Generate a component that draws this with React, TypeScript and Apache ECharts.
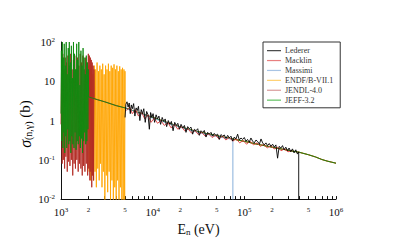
import React, { useEffect, useRef } from 'react';
import * as echarts from 'echarts';

type P = [number, number];

const seriesNames = ['Lederer', 'Macklin', 'Massimi', 'ENDF/B-VII.1', 'JENDL-4.0', 'JEFF-3.2'];
const seriesColors = ['#000000', '#e03a3a', '#7aa6d6', '#ffa500', '#b22a22', '#108a10'];
const legendColors = ['#444444', '#e88080', '#a8c4e4', '#ffd070', '#d89a9a', '#60c060'];

const xTickValues = [1000, 2000, 3000, 4000, 5000, 6000, 7000, 8000, 9000,
  10000, 20000, 30000, 40000, 50000, 60000, 70000, 80000, 90000,
  100000, 200000, 300000, 400000, 500000, 600000, 700000, 800000, 900000, 1000000];
const xLabelValues = [1000, 2000, 5000, 10000, 20000, 50000, 100000, 200000, 500000, 1000000];
const yLabelValues = [0.01, 0.1, 1, 10, 100];

// evaluated smooth cross section above resolved resonance region
const evalSmooth: P[] = [[2000, 4.0], [2500, 3.4], [3000, 3.0], [4000, 2.4], [5000, 2.1], [7000, 1.6],
  [10000, 1.2], [15000, 0.86], [20000, 0.69], [30000, 0.53], [50000, 0.41], [70000, 0.35],
  [100000, 0.295], [150000, 0.24], [200000, 0.21], [300000, 0.175], [400000, 0.155],
  [500000, 0.135], [600000, 0.118], [700000, 0.102], [800000, 0.093], [900000, 0.087], [1000000, 0.082]];

const jeffRes: P[] = [[1000, 1.5], [1010, 60], [1022, 0.3], [1035, 100], [1048, 0.2], [1060, 40], [1072, 0.5],
  [1085, 90], [1098, 0.15], [1112, 25], [1125, 0.4], [1140, 100], [1155, 0.2], [1170, 15], [1185, 0.6],
  [1200, 70], [1215, 0.25], [1232, 100], [1248, 0.3], [1265, 30], [1280, 0.15], [1298, 80], [1315, 0.4],
  [1332, 12], [1350, 0.25], [1368, 100], [1386, 0.2], [1405, 50], [1424, 0.5], [1443, 20], [1462, 0.18],
  [1482, 90], [1502, 0.3], [1522, 35], [1543, 0.25], [1564, 100], [1585, 0.4], [1606, 8], [1628, 0.2],
  [1650, 60], [1672, 0.35], [1695, 25], [1718, 0.15], [1741, 70], [1765, 0.3], [1789, 40], [1813, 0.5],
  [1838, 15], [1863, 0.25], [1888, 45], [1913, 0.3], [1939, 30], [1965, 0.6], [1990, 20], [2000, 4.0]];

const jendlRes: P[] = [[1000, 0.8], [1015, 30], [1030, 0.08], [1045, 50], [1060, 0.1], [1078, 20], [1095, 0.06],
  [1112, 40], [1130, 0.12], [1150, 30], [1170, 0.05], [1190, 45], [1210, 0.09], [1230, 25], [1252, 0.07],
  [1275, 50], [1298, 0.1], [1320, 20], [1343, 0.04], [1366, 35], [1390, 0.08], [1414, 45], [1438, 0.06],
  [1463, 20], [1488, 0.1], [1514, 40], [1540, 0.05], [1566, 25], [1593, 0.08], [1620, 50], [1648, 0.06],
  [1676, 30], [1705, 0.04], [1734, 45], [1764, 0.07], [1794, 20], [1825, 0.05], [1856, 40], [1888, 0.08],
  [1920, 30], [1953, 0.04], [1986, 50], [2010, 0.06], [2040, 45], [2065, 0.03], [2090, 40], [2115, 0.05],
  [2140, 35], [2165, 0.02], [2190, 30], [2215, 0.04], [2240, 25], [2265, 0.03], [2290, 20], [2300, 3.6]];

const endfRes: P[] = [[1950, 0.5], [2000, 25], [2030, 0.05], [2070, 20], [2110, 0.03], [2150, 25], [2190, 0.04],
  [2230, 15], [2270, 0.03], [2310, 25], [2350, 0.05], [2390, 20], [2430, 0.02], [2475, 30], [2520, 0.06],
  [2565, 18], [2610, 0.03], [2655, 25], [2700, 0.08], [2750, 20], [2800, 0.02], [2850, 28], [2900, 0.05],
  [2955, 15], [3010, 0.008], [3065, 25], [3120, 0.04], [3175, 20], [3230, 0.015], [3290, 28], [3350, 0.05],
  [3410, 18], [3470, 0.008], [3530, 25], [3595, 0.03], [3660, 22], [3725, 0.008], [3790, 27], [3860, 0.02],
  [3930, 20], [4000, 0.008], [4070, 25], [4145, 0.03], [4220, 18], [4295, 0.008], [4370, 24], [4450, 0.02],
  [4530, 20], [4610, 0.008], [4690, 22], [4775, 0.008], [4860, 20], [4950, 0.008], [4990, 18], [5000, 2.1]];

const ledererPts: P[] = [[5000, 1.2], [5100, 2.6], [5250, 3.0], [5400, 2.2], [5550, 2.8], [5700, 1.5], [5850, 2.5],
  [6000, 2.0], [6200, 2.7], [6400, 1.3], [6600, 2.1], [6800, 1.8], [7000, 2.3], [7250, 1.0], [7500, 1.9],
  [7750, 1.5], [8000, 2.0], [8300, 0.9], [8600, 1.7], [8900, 1.4], [9200, 0.6], [9500, 1.6], [9800, 1.2],
  [10100, 1.5], [10500, 0.9], [10900, 1.4], [11300, 1.1], [11700, 1.3], [12200, 0.8], [12700, 1.2],
  [13200, 0.95], [13700, 1.1], [14200, 0.7], [14800, 1.0], [15400, 0.8], [16000, 0.95], [16700, 0.55],
  [17400, 0.9], [18100, 0.75], [18800, 0.85], [19600, 0.6], [20400, 0.8], [21300, 0.65], [22200, 0.75],
  [23100, 0.5], [24100, 0.7], [25100, 0.62], [26200, 0.68], [27300, 0.45], [28500, 0.6], [29700, 0.55],
  [31000, 0.62], [32300, 0.42], [33700, 0.55], [35100, 0.5], [36600, 0.56], [38200, 0.38], [39800, 0.5],
  [41500, 0.45], [43300, 0.5], [45100, 0.4], [47000, 0.47], [49000, 0.42], [51100, 0.45], [53300, 0.33],
  [55600, 0.44], [58000, 0.4], [60500, 0.43], [63100, 0.35], [65800, 0.42], [68600, 0.36], [71500, 0.4],
  [74500, 0.3], [77700, 0.38], [81000, 0.34], [84500, 0.45], [88100, 0.32], [91900, 0.36], [95800, 0.33],
  [99900, 0.37], [104000, 0.3], [108500, 0.33], [113000, 0.28], [118000, 0.36], [123000, 0.3],
  [128500, 0.27], [134000, 0.32], [140000, 0.29], [146000, 0.25], [152000, 0.34], [158500, 0.27],
  [165000, 0.24], [172000, 0.27], [179500, 0.23], [187000, 0.26], [195000, 0.22], [203500, 0.25],
  [212000, 0.21], [221000, 0.24], [230500, 0.11], [240000, 0.22], [250500, 0.2], [261000, 0.23],
  [272000, 0.18], [283500, 0.21], [295500, 0.17], [308000, 0.2], [321000, 0.16], [335000, 0.19],
  [349000, 0.15], [364000, 0.18], [380000, 0.14], [392000, 0.16], [392000, 0.001]];

const macklinPts: P[] = [[5200, 1.8], [5600, 2.2], [6000, 1.5], [6500, 1.9], [7000, 1.3], [7600, 1.6], [8200, 1.1],
  [8900, 1.4], [9600, 0.9], [10400, 1.15], [11300, 0.85], [12300, 1.0], [13400, 0.75], [14600, 0.9],
  [15900, 0.65], [17300, 0.8], [18800, 0.6], [20500, 0.7], [22300, 0.55], [24300, 0.62], [26500, 0.48],
  [28900, 0.56], [31500, 0.44], [34300, 0.5], [37400, 0.4], [40800, 0.46], [44500, 0.37], [48500, 0.42],
  [52900, 0.34], [57700, 0.4], [62900, 0.32], [68600, 0.37], [74800, 0.3], [81600, 0.34], [89000, 0.27],
  [97000, 0.31], [105800, 0.25], [115400, 0.3], [125800, 0.24], [137200, 0.27], [149600, 0.22],
  [163100, 0.25], [177900, 0.2], [194000, 0.23], [211500, 0.19], [230700, 0.21], [251600, 0.17],
  [274400, 0.19], [299200, 0.16], [326300, 0.17]];

const massimiPts: P[] = [[5000, 2.0], [6000, 1.8], [7000, 1.55], [8500, 1.35], [10000, 1.15], [12000, 1.0],
  [15000, 0.84], [18000, 0.73], [22000, 0.63], [27000, 0.55], [33000, 0.48], [40000, 0.44], [48000, 0.4],
  [57000, 0.37], [66000, 0.35], [75000, 0.33], [75000, 0.001]];

const withTail = (res: P[]): P[] => res.concat(evalSmooth.filter((p) => p[0] > res[res.length - 1][0]));

const SERIF = 'Liberation Serif, DejaVu Serif, serif';

function fmtPow(v: number, big: boolean): string {
  const e = Math.round(Math.log10(v));
  if (Math.abs(Math.log10(v) - e) > 1e-6) {
    return '{m|' + Math.round(v / Math.pow(10, Math.floor(Math.log10(v) + 1e-9))) + '}';
  }
  if (!big && (e === 0 || e === 1)) return '{b|' + Math.pow(10, e) + '}';
  return '{b|10}{sup|' + e + '}';
}

export default function App() {
  const ref = useRef<HTMLDivElement>(null);
  useEffect(() => {
    if (!ref.current) return;
    const chart = echarts.init(ref.current, null, { renderer: 'svg' });
    const mk = (name: string, data: P[], z: number, width = 0.9) => ({
      name,
      type: 'line',
      data,
      symbol: 'none',
      showSymbol: false,
      z,
      clip: true,
      lineStyle: { width, color: seriesColors[seriesNames.indexOf(name)] },
      itemStyle: { color: seriesColors[seriesNames.indexOf(name)] },
    });
    const richLabel = {
      b: { fontFamily: SERIF, fontSize: 11, color: '#111' },
      sup: { fontFamily: SERIF, fontSize: 7, color: '#111', verticalAlign: 'top' },
      m: { fontFamily: SERIF, fontSize: 7, color: '#111' },
    };
    chart.setOption({
      animation: false,
      backgroundColor: '#fff',
      grid: { left: 61, right: 61, top: 42, bottom: 41, containLabel: false },
      legend: {
        data: seriesNames.map((n, i) => ({ name: n, itemStyle: { color: legendColors[i] } })),
        orient: 'vertical',
        left: 263,
        top: 42,
        icon: 'rect',
        itemWidth: 14,
        itemHeight: 1.2,
        itemGap: 0.6,
        padding: [4, 7, 3, 4],
        borderColor: '#333',
        borderWidth: 1,
        backgroundColor: '#fff',
        textStyle: { fontFamily: SERIF, fontSize: 8, lineHeight: 9.3, color: '#333', padding: [0, 0, 0, -1] },
      },
      xAxis: {
        type: 'log',
        logBase: 10,
        min: 1000,
        max: 1000000,
        name: '{t|E}{sub|n}{t| (eV)}',
        nameLocation: 'middle',
        nameGap: 22,
        nameTextStyle: {
          rich: {
            t: { fontFamily: SERIF, fontSize: 14, color: '#111' },
            sub: { fontFamily: SERIF, fontSize: 9, color: '#111', verticalAlign: 'bottom' },
          },
        },
        splitLine: { show: false },
        axisLine: { lineStyle: { color: '#111', width: 1 } },
        axisTick: { inside: true, length: 3, customValues: xTickValues, lineStyle: { color: '#111' } },
        minorTick: { show: false },
        axisLabel: {
          customValues: xLabelValues,
          margin: 7,
          formatter: (v: number) => fmtPow(v, true),
          rich: richLabel,
        },
      },
      yAxis: {
        type: 'log',
        logBase: 10,
        min: 0.01,
        max: 100,
        splitLine: { show: false },
        axisLine: { show: true, lineStyle: { color: '#111', width: 1 } },
        axisTick: { show: false },
        axisLabel: {
          customValues: yLabelValues,
          margin: 6,
          formatter: (v: number) => fmtPow(v, false),
          rich: richLabel,
        },
      },
      graphic: [
        {
          type: 'text',
          x: 25,
          y: 124,
          rotation: Math.PI / 2,
          style: {
            text: '{s|σ}{sub|(n,γ)}{t| (b)}',
            align: 'center',
            verticalAlign: 'middle',
            rich: {
              s: { fontFamily: SERIF, fontSize: 16, fontStyle: 'italic', color: '#111' },
              sub: { fontFamily: SERIF, fontSize: 10, color: '#111', verticalAlign: 'bottom' },
              t: { fontFamily: SERIF, fontSize: 15, color: '#111' },
            },
          },
        },
      ],
      series: [
        mk('ENDF/B-VII.1', withTail(endfRes), 1),
        mk('JENDL-4.0', withTail(jendlRes), 2),
        mk('JEFF-3.2', withTail(jeffRes), 3),
        mk('Massimi', massimiPts, 4),
        mk('Macklin', macklinPts, 5),
        mk('Lederer', ledererPts, 6),
      ],
    });
    return () => chart.dispose();
  }, []);
  return <div ref={ref} style={{ position: 'absolute', left: 0, top: 0, width: 397, height: 241 }} />;
}
